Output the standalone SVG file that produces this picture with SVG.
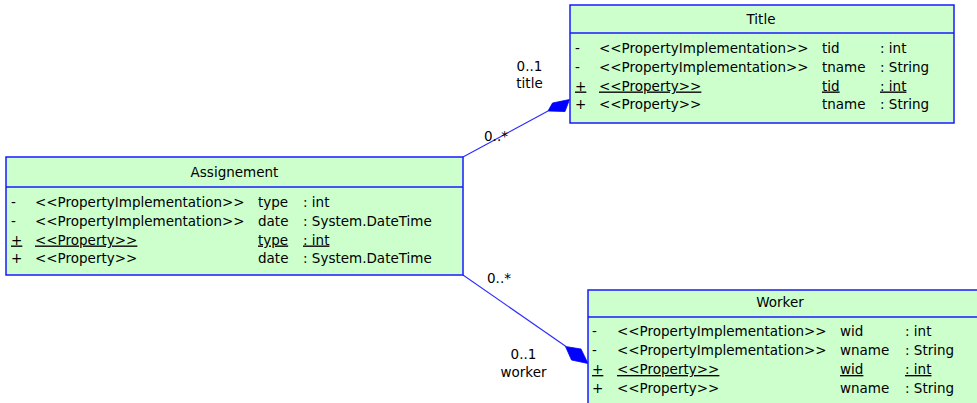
<svg xmlns="http://www.w3.org/2000/svg" width="977" height="403" viewBox="0 0 977 403">
<style>
text{font-family:"DejaVu Sans","Liberation Sans",sans-serif;font-size:13.5px;fill:#000}
.box{fill:#ccffcc;stroke:#1a1aff;stroke-width:1.5}
.sep{stroke:#1a1aff;stroke-width:1.5}
.hd{text-anchor:middle}
.u{text-decoration:underline}
.conn line{stroke:#2a2aff;stroke-width:1.1}
.conn polygon{fill:#0000ff;stroke:#0000ff;stroke-width:0.8}
.lbl{text-anchor:middle}
</style>
<rect width="977" height="403" fill="#ffffff"/>
<g id="connectors" class="conn">
  <line x1="463" y1="157" x2="548" y2="111"/>
  <polygon points="548,111 552.5,103 569.5,99.5 565,111.5"/>
  <line x1="463" y1="275" x2="566" y2="346.5"/>
  <polygon points="565.5,346.5 581,349 588,363.5 571.5,360"/>
  <text class="lbl" x="529.5" y="71">0..1</text>
  <text class="lbl" x="529.5" y="88">title</text>
  <text x="484" y="141">0..*</text>
  <text x="487" y="283">0..*</text>
  <text class="lbl" x="523.5" y="359">0..1</text>
  <text class="lbl" x="523.5" y="377">worker</text>
</g>
<g id="Title">
  <rect class="box" x="570" y="5" width="384" height="118"/>
  <line class="sep" x1="570" y1="33" x2="954" y2="33"/>
  <text class="hd" x="761" y="23.5">Title</text>
  <text x="575" y="52.5">-</text><text x="599" y="52.5">&lt;&lt;PropertyImplementation&gt;&gt;</text><text x="822" y="52.5">tid</text><text x="880" y="52.5">: int</text>
  <text x="575" y="71.5">-</text><text x="599" y="71.5">&lt;&lt;PropertyImplementation&gt;&gt;</text><text x="822" y="71.5">tname</text><text x="880" y="71.5">: String</text>
  <text class="u" x="575" y="90.5">+</text><text class="u" x="599" y="90.5">&lt;&lt;Property&gt;&gt;</text><text class="u" x="822" y="90.5">tid</text><text class="u" x="880" y="90.5">: int</text>
  <text x="575" y="109">+</text><text x="599" y="109">&lt;&lt;Property&gt;&gt;</text><text x="822" y="109">tname</text><text x="880" y="109">: String</text>
</g>
<g id="Assignement">
  <rect class="box" x="6" y="157" width="457" height="118"/>
  <line class="sep" x1="6" y1="187" x2="463" y2="187"/>
  <text class="hd" x="234.5" y="176.5">Assignement</text>
  <text x="11" y="206.5">-</text><text x="35" y="206.5">&lt;&lt;PropertyImplementation&gt;&gt;</text><text x="258" y="206.5">type</text><text x="303" y="206.5">: int</text>
  <text x="11" y="225.5">-</text><text x="35" y="225.5">&lt;&lt;PropertyImplementation&gt;&gt;</text><text x="258" y="225.5">date</text><text x="303" y="225.5">: System.DateTime</text>
  <text class="u" x="11" y="244.5">+</text><text class="u" x="35" y="244.5">&lt;&lt;Property&gt;&gt;</text><text class="u" x="258" y="244.5">type</text><text class="u" x="303" y="244.5">: int</text>
  <text x="11" y="263">+</text><text x="35" y="263">&lt;&lt;Property&gt;&gt;</text><text x="258" y="263">date</text><text x="303" y="263">: System.DateTime</text>
</g>
<g id="Worker">
  <rect class="box" x="588" y="290" width="390" height="125"/>
  <line class="sep" x1="588" y1="317" x2="978" y2="317"/>
  <text class="hd" x="780" y="307">Worker</text>
  <text x="592" y="336">-</text><text x="617" y="336">&lt;&lt;PropertyImplementation&gt;&gt;</text><text x="840" y="336">wid</text><text x="905" y="336">: int</text>
  <text x="592" y="355">-</text><text x="617" y="355">&lt;&lt;PropertyImplementation&gt;&gt;</text><text x="840" y="355">wname</text><text x="905" y="355">: String</text>
  <text class="u" x="592" y="374">+</text><text class="u" x="617" y="374">&lt;&lt;Property&gt;&gt;</text><text class="u" x="840" y="374">wid</text><text class="u" x="905" y="374">: int</text>
  <text x="592" y="392.5">+</text><text x="617" y="392.5">&lt;&lt;Property&gt;&gt;</text><text x="840" y="392.5">wname</text><text x="905" y="392.5">: String</text>
</g>
</svg>
